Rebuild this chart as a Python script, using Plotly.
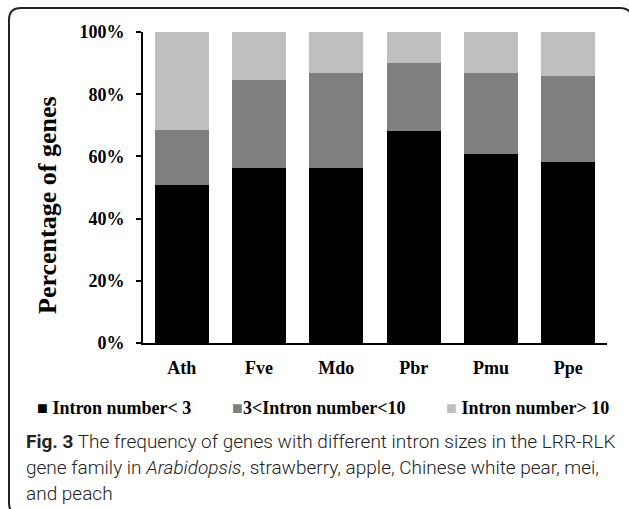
import plotly.graph_objects as go

# ---- data ----
categories = ["Ath", "Fve", "Mdo", "Pbr", "Pmu", "Ppe"]
intron_lt3 = [50.8, 56.2, 56.2, 68.2, 60.8, 58.1]
intron_3_10 = [17.7, 28.4, 30.7, 21.9, 26.1, 27.8]
intron_gt10 = [31.5, 15.4, 13.1, 9.9, 13.1, 14.1]
series_names = ["Intron number< 3", "3<Intron number<10", "Intron number> 10"]
legend_labels = [" Intron number< 3", "3<Intron number<10", " Intron number> 10"]
y_tick_vals = [0, 20, 40, 60, 80, 100]
y_tick_text = ["0%", "20%", "40%", "60%", "80%", "100%"]
y_title = "Percentage of genes"
caption_lines = [
    "<b>Fig. 3</b> The frequency of genes with different intron sizes in the LRR-RLK",
    "gene family in <i>Arabidopsis</i>, strawberry, apple, Chinese white pear, mei,",
    "and peach",
]

colors = ["#000000", "#7f7f7f", "#bfbfbf"]
W, H = 629, 509
L, R, T, B = 143, 22, 32, 166
PW, PH = W - L - R, H - T - B


def px(x):
    return (x - L) / PW


def py(y):
    return (T + PH - y) / PH


serif = "Liberation Serif, Times New Roman, serif"
fig = go.Figure()
for name, vals, c in zip(series_names, [intron_lt3, intron_3_10, intron_gt10], colors):
    fig.add_trace(go.Bar(x=categories, y=vals, name=name, marker=dict(color=c, line=dict(width=0)),
                         showlegend=False))

# rounded frame
def pt(x, y):
    return f"{px(x):.5f},{py(y):.5f}"

x0, y0, x1, y1, r = 9, 8, 632, 515, 12
path = (f"M{pt(x0, y0 + r)} Q{pt(x0, y0)} {pt(x0 + r, y0)} L{pt(x1 - r, y0)} Q{pt(x1, y0)} {pt(x1, y0 + r)} "
        f"L{pt(x1, y1 - r)} Q{pt(x1, y1)} {pt(x1 - r, y1)} L{pt(x0 + r, y1)} Q{pt(x0, y1)} {pt(x0, y1 - r)} Z")

annotations = [
    dict(text=f"<b>{y_title}</b>", textangle=-90, x=px(47), y=py(205), xref="paper", yref="paper",
         showarrow=False, xanchor="center", yanchor="middle",
         font=dict(family=serif, size=26, color="#000")),
]
# legend as text items
leg_x = [35, 230, 444]
for lx, name, c in zip(leg_x, legend_labels, colors):
    annotations.append(dict(
        text=f"<span style='color:{c}'>■</span><b>{name}</b>",
        x=px(lx), y=py(408), xref="paper", yref="paper", showarrow=False,
        xanchor="left", yanchor="middle", font=dict(family=serif, size=18, color="#000")))
cap_y = [441, 467, 493]
for line, cy in zip(caption_lines, cap_y):
    annotations.append(dict(
        text=line, x=px(24), y=py(cy), xref="paper", yref="paper", showarrow=False,
        xanchor="left", yanchor="middle",
        font=dict(family="Roboto, sans-serif", size=19, color="#222", weight=300)))

fig.update_layout(
    width=W, height=H, margin=dict(l=L, r=R, t=T, b=B),
    paper_bgcolor="white", plot_bgcolor="white",
    barmode="stack", bargap=0.3,
    shapes=[dict(type="path", path=path, xref="paper", yref="paper",
                 line=dict(color="#222", width=2), fillcolor="rgba(0,0,0,0)")],
    annotations=annotations,
)
fig.update_xaxes(showline=True, linecolor="#000", linewidth=2, ticks="", showgrid=False,
                 tickfont=dict(family=serif, size=18, color="#000", weight="bold"),
                 ticklabelstandoff=7)
fig.update_yaxes(range=[0, 100], tickvals=y_tick_vals, ticktext=y_tick_text, showline=True,
                 linecolor="#000", linewidth=2, ticks="outside", ticklen=5, tickwidth=2, tickcolor="#000",
                 showgrid=False, zeroline=False,
                 tickfont=dict(family=serif, size=18, color="#000", weight="bold"),
                 ticklabelstandoff=8)

fig.write_html("out.html", config={"displayModeBar": False},
               post_script="document.body.style.margin='0';document.body.style.overflow='hidden';")
